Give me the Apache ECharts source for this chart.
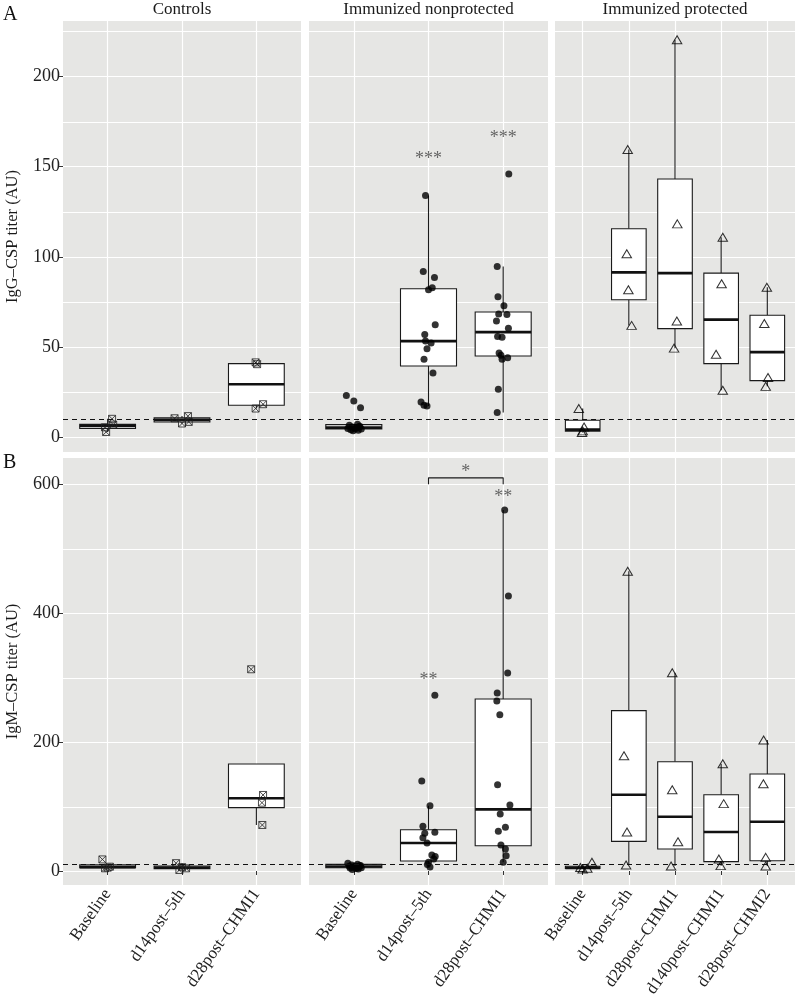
<!DOCTYPE html>
<html>
<head>
<meta charset="utf-8">
<script src="https://cdn.jsdelivr.net/npm/echarts@6/dist/echarts.min.js"></script>
<style>
  html, body { margin: 0; padding: 0; background: #fff; }
  #chart { width: 797px; height: 994px; }
</style>
</head>
<body>
<div id="chart"></div>
<script>
/* ---------- data ---------- */
const ctrlCats = ['Baseline', 'd14post–5th', 'd28post–CHMI1'];
const nonprotCats = ['Baseline', 'd14post–5th', 'd28post–CHMI1'];
const protCats = ['Baseline', 'd14post–5th', 'd28post–CHMI1', 'd140post–CHMI1', 'd28post–CHMI2'];
const facetNames = ['Controls', 'Immunized nonprotected', 'Immunized protected'];
const threshold = 10;

// box stats: [lower whisker, Q1, median, Q3, upper whisker]
const igGCtrlBox = [[2.9, 4.8, 6.2, 7.1, 10.2], [7.6, 8.4, 9.6, 10.7, 11.7], [15.9, 17.7, 29.4, 40.8, 41.5]];
const igGCtrlVals = [[10.2, 7.0, 5.5, 2.9], [10.5, 11.7, 7.6, 8.5], [41.5, 40.5, 18.3, 15.9]];
const igGCtrlJit = [[0.06, 0.075, -0.035, -0.02], [-0.1, 0.08, 0, 0.09], [-0.01, 0.01, 0.09, -0.01]];

const igGNonprotBox = [[3.4, 4.6, 5.3, 7.0, 7.2], [17.3, 39.5, 53.3, 82.3, 134.0], [13.7, 45.0, 58.3, 69.4, 94.7]];
const igGNonprotVals = [
  [23.1, 20.1, 16.4, 7.2, 6.6, 6.1, 5.6, 5.2, 4.9, 4.5, 4.2, 3.9, 3.6, 5.8, 4.7],
  [134.0, 91.9, 88.6, 81.8, 82.9, 62.4, 57.0, 53.3, 52.2, 49.1, 43.2, 35.6, 19.5, 17.7, 17.3],
  [146.0, 94.7, 77.9, 72.9, 68.3, 68.1, 64.4, 60.4, 55.9, 55.5, 46.7, 45.4, 43.2, 44.1, 26.6, 13.7]
];
const igGNonprotJit = [
  [-0.1, 0, 0.09, 0.05, -0.06, 0.08, -0.02, 0.03, -0.08, 0.1, -0.04, 0.06, -0.01, 0.07, 0.02],
  [-0.04, -0.07, 0.08, 0, 0.05, 0.09, -0.05, -0.04, 0.035, -0.02, -0.06, 0.06, -0.1, -0.06, -0.02],
  [0.075, -0.08, -0.07, 0.01, -0.06, 0.05, -0.09, 0.07, -0.075, -0.015, -0.055, -0.03, -0.015, 0.06, -0.065, -0.08]
];

const igGProtBox = [[2.6, 3.3, 4.2, 9.4, 15.9], [62.0, 76.2, 91.4, 115.6, 159.5], [49.4, 60.2, 91.0, 143.2, 220.4], [26.0, 40.8, 65.2, 91.0, 110.9], [28.2, 31.4, 47.2, 67.6, 83.2]];
const igGProtVals = [[15.9, 5.7, 3.5, 2.6], [159.5, 101.7, 81.8, 62.0], [220.4, 118.3, 64.4, 49.4], [110.9, 85.1, 46.0, 26.0], [83.2, 63.1, 33.1, 28.2]];
const igGProtJit = [[-0.085, 0.03, 0.0, -0.015], [-0.025, -0.045, -0.01, 0.06], [0.045, 0.05, 0.04, -0.02], [0.035, 0.01, -0.11, 0.035], [-0.01, -0.065, 0.015, -0.035]];

const igMCtrlBox = [[4.2, 5.0, 6.0, 9.5, 9.5], [1.6, 3.6, 5.1, 7.6, 12.2], [71.4, 98.3, 112.8, 166.0, 166.0]];
const igMCtrlVals = [[18.0, 6.7, 5.2, 4.2], [12.2, 6.0, 4.2, 1.6], [313.0, 118.0, 106.0, 71.4]];
const igMCtrlJit = [[-0.07, 0.03, 0.0, -0.035], [-0.08, 0.0, 0.055, -0.035], [-0.07, 0.09, 0.075, 0.08]];

const igMNonprotBox = [[2.5, 5.1, 7.0, 10.3, 12.0], [6.2, 15.5, 43.4, 64.1, 101.3], [13.5, 39.3, 95.7, 266.9, 560.0]];
const igMNonprotVals = [
  [12.0, 10.6, 9.4, 8.6, 7.9, 7.3, 6.9, 6.4, 5.8, 5.2, 4.6, 4.0, 3.3, 2.5, 8.2],
  [272.6, 139.6, 101.3, 69.3, 60.0, 58.4, 51.7, 43.4, 24.8, 22.7, 18.6, 13.5, 10.3, 6.2],
  [560.0, 426.7, 307.2, 276.2, 263.8, 242.5, 133.9, 102.4, 88.4, 67.8, 61.6, 40.3, 34.1, 23.7, 13.5]
];
const igMNonprotJit = [
  [-0.08, 0.05, -0.03, 0.09, 0.02, -0.06, 0.07, -0.01, 0.04, 0.1, -0.05, 0.03, 0.06, -0.02, 0.08],
  [0.085, -0.09, 0.02, -0.075, 0.085, -0.05, -0.075, -0.02, 0.045, 0.09, 0.07, 0.0, -0.015, 0.02],
  [0.02, 0.07, 0.06, -0.08, -0.085, -0.045, -0.075, 0.09, -0.04, 0.03, -0.065, -0.03, 0.03, 0.04, 0.0]
];

const igMProtBox = [[3.0, 3.9, 4.9, 7.5, 7.5], [9.3, 46.0, 118.4, 248.8, 465.0], [7.8, 34.1, 84.3, 169.6, 307.7], [8.3, 14.5, 60.5, 118.4, 166.5], [7.8, 16.0, 76.5, 150.5, 203.3]];
const igMProtVals = [[13.5, 5.5, 4.2, 3.0], [465.0, 178.9, 60.5, 9.3], [307.7, 126.2, 45.5, 7.8], [166.5, 104.5, 18.6, 8.3], [203.3, 135.5, 21.2, 7.8]];
const igMProtJit = [[0.2, -0.05, 0.1, 0.0], [-0.025, -0.105, -0.04, -0.06], [-0.06, -0.06, 0.065, -0.085], [0.035, 0.055, -0.05, -0.01], [-0.08, -0.085, -0.035, -0.035]];

// significance marks: [text, category position, value]
const igGStars = [['***', 2, 154], ['***', 3, 166]];
const igMStars = [['**', 2, 296], ['**', 3, 580], ['*', 2.5, 618]];
const igMBracket = [[2, 600], [2, 610], [3, 610], [3, 600]];

const rowTicks = [[0, 50, 100, 150, 200], [0, 200, 400, 600]];
const rowMinor = [[25, 75, 125, 175, 225], [100, 300, 500]];
const rowRange = [[-8.2, 230.8], [-21.7, 640.8]];
const rowTitles = ['IgG–CSP titer (AU)', 'IgM–CSP titer (AU)'];

/* ---------- layout ---------- */
const FONT = '"Liberation Serif", "DejaVu Serif", serif';
const colLeft = [63, 309, 555];
const colWidth = [238, 239, 240];
const rowTop = [21, 458];
const rowHeight = [431, 427];
const BOX_W = 0.75;
const PANEL_BG = '#E6E6E4';

const panels = [
  { row: 0, col: 0, cats: ctrlCats, box: igGCtrlBox, vals: igGCtrlVals, jit: igGCtrlJit, shape: 'cross' },
  { row: 0, col: 1, cats: nonprotCats, box: igGNonprotBox, vals: igGNonprotVals, jit: igGNonprotJit, shape: 'dot', stars: igGStars },
  { row: 0, col: 2, cats: protCats, box: igGProtBox, vals: igGProtVals, jit: igGProtJit, shape: 'tri' },
  { row: 1, col: 0, cats: ctrlCats, box: igMCtrlBox, vals: igMCtrlVals, jit: igMCtrlJit, shape: 'cross' },
  { row: 1, col: 1, cats: nonprotCats, box: igMNonprotBox, vals: igMNonprotVals, jit: igMNonprotJit, shape: 'dot', stars: igMStars, bracket: igMBracket },
  { row: 1, col: 2, cats: protCats, box: igMProtBox, vals: igMProtVals, jit: igMProtJit, shape: 'tri' }
];

const shapeStyle = {
  cross: { symbol: 'path://M0,0L10,0L10,10L0,10ZM0,0L10,10M10,0L0,10', symbolSize: 7,
           itemStyle: { color: 'rgba(0,0,0,0)', borderColor: '#222', borderWidth: 1 } },
  dot: { symbol: 'circle', symbolSize: 7, itemStyle: { color: '#000' } },
  tri: { symbol: 'triangle', symbolSize: [9.5, 8],
         itemStyle: { color: 'rgba(0,0,0,0)', borderColor: '#000', borderWidth: 1 } }
};

function renderBox(params, api) {
  const x = api.value(0);
  const half = api.size([BOX_W, 0])[0] / 2;
  const pLo = api.coord([x, api.value(1)]);
  const pQ1 = api.coord([x, api.value(2)]);
  const pMed = api.coord([x, api.value(3)]);
  const pQ3 = api.coord([x, api.value(4)]);
  const pHi = api.coord([x, api.value(5)]);
  const ln = { stroke: '#1a1a1a', lineWidth: 1.1 };
  return {
    type: 'group',
    children: [
      { type: 'line', shape: { x1: pLo[0], y1: pLo[1], x2: pQ1[0], y2: pQ1[1] }, style: ln },
      { type: 'line', shape: { x1: pQ3[0], y1: pQ3[1], x2: pHi[0], y2: pHi[1] }, style: ln },
      { type: 'rect', shape: { x: pQ3[0] - half, y: pQ3[1], width: half * 2, height: pQ1[1] - pQ3[1] },
        style: { fill: '#fff', stroke: '#1a1a1a', lineWidth: 1.1 } },
      { type: 'line', shape: { x1: pMed[0] - half, y1: pMed[1], x2: pMed[0] + half, y2: pMed[1] },
        style: { stroke: '#111', lineWidth: 2.6 } }
    ]
  };
}

// minor horizontal grid line spanning the whole panel
function renderMinor(params, api) {
  const cs = params.coordSys;
  const y = Math.round(api.coord([api.value(0), api.value(1)])[1]) + 0.5;
  return {
    type: 'line',
    shape: { x1: cs.x, y1: y, x2: cs.x + cs.width, y2: y },
    style: { stroke: '#ffffff', lineWidth: 1 }
  };
}

const grid = [], xAxis = [], yAxis = [], series = [];

panels.forEach((p, i) => {
  const catPos = p.cats.map((c, k) => k + 1);
  grid.push({
    left: colLeft[p.col], top: rowTop[p.row], width: colWidth[p.col], height: rowHeight[p.row],
    outerBoundsMode: 'none', containLabel: false,
    show: true, backgroundColor: PANEL_BG, borderWidth: 0
  });
  xAxis.push({
    type: 'value', gridIndex: i, min: 0.4, max: p.cats.length + 0.6,
    axisLine: { show: false },
    axisTick: { show: p.row === 1, customValues: catPos, length: 4, lineStyle: { color: '#333' } },
    axisLabel: {
      show: p.row === 1, customValues: catPos, rotate: 55, margin: 6,
      fontFamily: FONT, fontSize: 17, color: '#222',
      formatter: v => p.cats[Math.round(v) - 1]
    },
    splitLine: { show: true, lineStyle: { color: '#fff', width: 1.2 } }
  });
  yAxis.push({
    type: 'value', gridIndex: i, min: rowRange[p.row][0], max: rowRange[p.row][1],
    axisLine: { show: false },
    axisTick: { show: p.col === 0, customValues: rowTicks[p.row], length: 4, lineStyle: { color: '#333' } },
    axisLabel: { show: p.col === 0, customValues: rowTicks[p.row], margin: 3, fontFamily: FONT, fontSize: 18, color: '#222' },
    splitLine: { show: true, lineStyle: { color: '#fff', width: 1.2 } },
    name: p.col === 0 ? rowTitles[p.row] : '',
    nameLocation: 'middle', nameGap: 42,
    nameTextStyle: { fontFamily: FONT, fontSize: 16.5, color: '#1a1a1a' }
  });

  // minor grid lines
  series.push({
    type: 'custom', xAxisIndex: i, yAxisIndex: i, z: 1, silent: true,
    renderItem: renderMinor, encode: { x: 0, y: 1 },
    data: rowMinor[p.row].map(v => [1, v])
  });

  // boxes
  series.push({
    type: 'custom', xAxisIndex: i, yAxisIndex: i, z: 3, renderItem: renderBox,
    encode: { x: 0, y: [1, 2, 3, 4, 5] },
    data: p.box.map((b, k) => [k + 1].concat(b))
  });

  // jittered points
  const pts = [];
  p.vals.forEach((arr, k) => arr.forEach((v, j) => pts.push([k + 1 + p.jit[k][j], v])));
  const st = shapeStyle[p.shape];
  series.push({
    type: 'scatter', xAxisIndex: i, yAxisIndex: i, z: 4,
    symbol: st.symbol, symbolSize: st.symbolSize, itemStyle: st.itemStyle, data: pts
  });

  // dashed threshold line
  series.push({
    type: 'line', xAxisIndex: i, yAxisIndex: i, data: [], silent: true,
    markLine: {
      z: 6, silent: true, symbol: ['none', 'none'], label: { show: false },
      lineStyle: { color: '#111', width: 1.1, type: [5, 4] },
      data: [{ yAxis: threshold }]
    }
  });

  if (p.stars) {
    series.push({
      type: 'scatter', xAxisIndex: i, yAxisIndex: i, z: 5, symbolSize: 1,
      itemStyle: { color: 'rgba(0,0,0,0)' },
      label: { show: true, position: 'inside', formatter: d => d.name, fontFamily: FONT, fontSize: 18, color: '#444' },
      data: p.stars.map(s => ({ name: s[0], value: [s[1], s[2]] }))
    });
  }
  if (p.bracket) {
    series.push({
      type: 'line', xAxisIndex: i, yAxisIndex: i, z: 5, symbol: 'none',
      lineStyle: { color: '#1a1a1a', width: 1.1 }, data: p.bracket
    });
  }
});

const graphic = [
  { type: 'text', x: 3, y: 5, style: { text: 'A', font: '20px ' + FONT, fill: '#111' } },
  { type: 'text', x: 3, y: 453, style: { text: 'B', font: '20px ' + FONT, fill: '#111' } }
];
facetNames.forEach((n, c) => {
  graphic.push({
    type: 'text', x: colLeft[c] + colWidth[c] / 2, y: 10,
    style: { text: n, font: '17px ' + FONT, fill: '#1a1a1a', textAlign: 'center', textVerticalAlign: 'middle' }
  });
});

const chart = echarts.init(document.getElementById('chart'));
chart.setOption({
  animation: false,
  backgroundColor: '#fff',
  grid, xAxis, yAxis, series, graphic
});
</script>
</body>
</html>
